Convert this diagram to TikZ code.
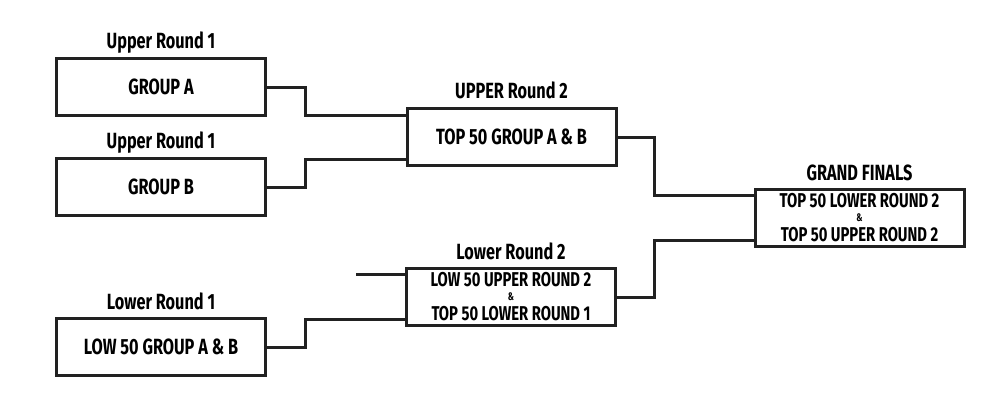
\documentclass[tikz,border=0pt]{standalone}
\usepackage{fontspec}
\newfontfamily\brk{Fira Sans}[FakeStretch=0.74]
\begin{document}
\begin{tikzpicture}[x=1pt,y=-1pt,
  box/.style={draw=black!87, line width=3pt, fill=white, minimum width=209pt, minimum height=57pt, inner sep=0pt, font=\brk\bfseries\fontsize{22}{22}\selectfont, align=center},
  box2/.style={box, font=\brk\bfseries\fontsize{20}{20}\selectfont},
  lbl/.style={anchor=base, inner sep=0pt, font=\brk\bfseries\fontsize{22}{22}\selectfont},
  amp/.style={font=\brk\bfseries\fontsize{11}{11}\selectfont},
  wire/.style={draw=black!87, line width=3pt}]
\useasboundingbox[fill=white] (0,0) rectangle (1000,400);
% boxes
\node[box] (A) at (161,87) {GROUP A};
\node[box] (B) at (161,187) {GROUP B};
\node[box] (L1) at (161,347) {LOW 50 GROUP A \& B};
\node[box] (U2) at (511.5,137) {TOP 50 GROUP A \& B};
\node[box2] (L2) at (511,297) {LOW 50 UPPER ROUND 2\\[-6pt]{\fontsize{11}{11}\selectfont\&}\\TOP 50 LOWER ROUND 1};
\node[box2] (GF) at (859.5,218) {TOP 50 LOWER ROUND 2\\[-6pt]{\fontsize{11}{11}\selectfont\&}\\TOP 50 UPPER ROUND 2};
% labels
\node[lbl] (lA) at ([yshift=9pt]A.north) {Upper Round 1};
\node[lbl] (lB) at ([yshift=9pt]B.north) {Upper Round 1};
\node[lbl] (lL1) at ([yshift=8pt]L1.north) {Lower Round 1};
\node[lbl] (lU2) at ([yshift=9pt]U2.north) {UPPER Round 2};
\node[lbl] (lL2) at ([yshift=8pt]L2.north) {Lower Round 2};
\node[lbl] (lGF) at ([yshift=8pt]GF.north) {GRAND FINALS};
% connectors
\coordinate (free) at ([xshift=-49pt,yshift=-7pt]L2.north west);
\draw[wire] (A.east) -- ++(38,0) |- ([yshift=-8pt]U2.north west);
\draw[wire] (B.east) -- ++(38,0) |- ([yshift=8pt]U2.south west);
\draw[wire] (L1.east) -- ++(38,0) |- ([yshift=8pt]L2.south west);
\draw[wire] (free) -- (free -| L2.west);
\draw[wire] (U2.east) -- ++(37,0) |- ([yshift=-7pt]GF.north west);
\draw[wire] (L2.east) -- ++(37,0) |- ([yshift=8pt]GF.south west);
\end{tikzpicture}
\end{document}
